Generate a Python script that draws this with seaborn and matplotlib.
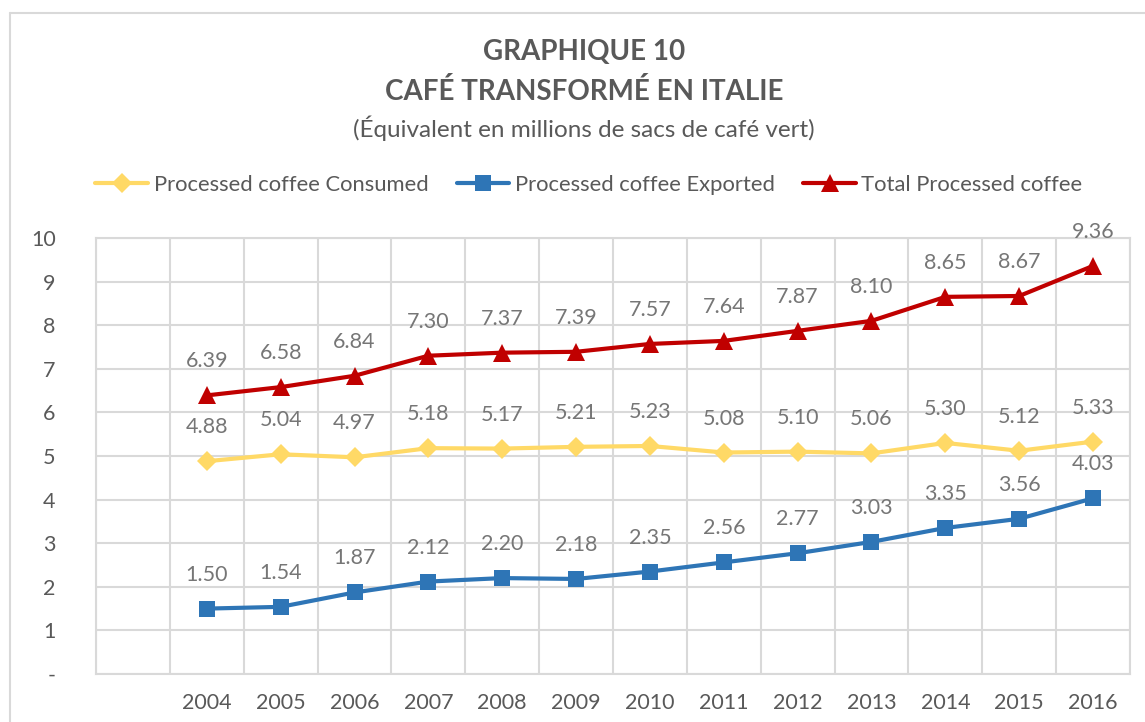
import pandas as pd
import matplotlib
matplotlib.use("Agg")
import matplotlib.pyplot as plt
import seaborn as sns
from matplotlib.lines import Line2D
from matplotlib.ticker import FixedLocator

# Data
years = ["2004", "2005", "2006", "2007", "2008", "2009", "2010",
         "2011", "2012", "2013", "2014", "2015", "2016"]
consumed = [4.88, 5.04, 4.97, 5.18, 5.17, 5.21, 5.23, 5.08, 5.10, 5.06, 5.30, 5.12, 5.33]
exported = [1.50, 1.54, 1.87, 2.12, 2.20, 2.18, 2.35, 2.56, 2.77, 3.03, 3.35, 3.56, 4.03]
total = [6.39, 6.58, 6.84, 7.30, 7.37, 7.39, 7.57, 7.64, 7.87, 8.10, 8.65, 8.67, 9.36]

series_names = ["Processed coffee Consumed", "Processed coffee Exported", "Total Processed coffee"]
series_values = [consumed, exported, total]
colors = ["#FFD966", "#2E75B6", "#C00000"]
markers = ["D", "s", "^"]
marker_sizes = [10, 12, 13]

y_ticks = [0, 1, 2, 3, 4, 5, 6, 7, 8, 9, 10]
y_tick_labels = ["-", "1", "2", "3", "4", "5", "6", "7", "8", "9", "10"]

# first category slot on the axis is empty, years start at slot 1
rows = []
for name, vals in zip(series_names, series_values):
    for i, (yr, v) in enumerate(zip(years, vals)):
        rows.append({"series": name, "year": yr, "pos": i + 1, "value": v})
df = pd.DataFrame(rows)

sns.set_style("white")
plt.rcParams["font.family"] = ["Lato", "DejaVu Sans"]

grid_col = "#D9D9D9"
text_col = "#595959"
label_col = "#767676"

fig = plt.figure(figsize=(11.45, 7.22), dpi=100)
ax = fig.add_axes([96 / 1145, 1 - 674 / 722, (1130 - 96) / 1145, (674 - 238) / 722])

for name, col, mk, ms in zip(series_names, colors, markers, marker_sizes):
    sub = df[df["series"] == name]
    sns.lineplot(data=sub, x="pos", y="value", ax=ax, color=col, linewidth=3,
                 marker=mk, markersize=ms, markeredgewidth=0, label=name, zorder=3)
    for _, r in sub.iterrows():
        ax.annotate(f"{r['value']:.2f}", (r["pos"], r["value"]), xytext=(0, 34),
                    textcoords="offset pixels", ha="center", va="center",
                    fontsize=15.5, color=label_col, zorder=4)

# axes / grid
ax.set_xlim(-0.5, 13.5)
ax.set_ylim(0, 10)
ax.set_yticks(y_ticks)
ax.set_yticklabels(y_tick_labels)
ax.set_xticks(range(1, len(years) + 1))
ax.set_xticklabels(years)
ax.xaxis.set_minor_locator(FixedLocator([k - 0.5 for k in range(0, 15)]))
ax.grid(True, which="major", axis="y", color=grid_col, linewidth=1.5)
ax.grid(True, which="minor", axis="x", color=grid_col, linewidth=1.5)
ax.grid(False, which="major", axis="x")
ax.tick_params(axis="both", which="both", length=0)
ax.tick_params(axis="y", labelsize=15.5, labelcolor=text_col, pad=29)
ax.tick_params(axis="x", labelsize=15.5, labelcolor=text_col, pad=14)
for s in ax.spines.values():
    s.set_color(grid_col)
    s.set_linewidth(1.5)
ax.set_xlabel("")
ax.set_ylabel("")
ax.set_axisbelow(True)

# legend
ax.get_legend().remove()
fig.legend(*ax.get_legend_handles_labels(), loc="center", ncol=3,
           bbox_to_anchor=(589 / 1145, 1 - 185 / 722), frameon=False,
           fontsize=15.8, labelcolor=text_col, handlelength=2.4,
           handletextpad=0.25, columnspacing=1.3)

# titles
fig.text(0.51, 1 - 52 / 722, "GRAPHIQUE 10", ha="center", va="center",
         fontsize=20, fontweight="bold", color=text_col)
fig.text(0.51, 1 - 91 / 722, "CAFÉ TRANSFORMÉ EN ITALIE", ha="center", va="center",
         fontsize=20, fontweight="bold", color=text_col)
fig.text(0.51, 1 - 128 / 722, "(Équivalent en millions de sacs de café vert)",
         ha="center", va="center", fontsize=17.5, color=text_col)

# outer chart frame (left and top edges visible)
fig.add_artist(Line2D([10 / 1145, 10 / 1145], [0, 1 - 13 / 722], color=grid_col,
                      linewidth=1.5, transform=fig.transFigure))
fig.add_artist(Line2D([10 / 1145, 1], [1 - 13 / 722, 1 - 13 / 722], color=grid_col,
                      linewidth=1.5, transform=fig.transFigure))

fig.savefig("out.png", dpi=100)
